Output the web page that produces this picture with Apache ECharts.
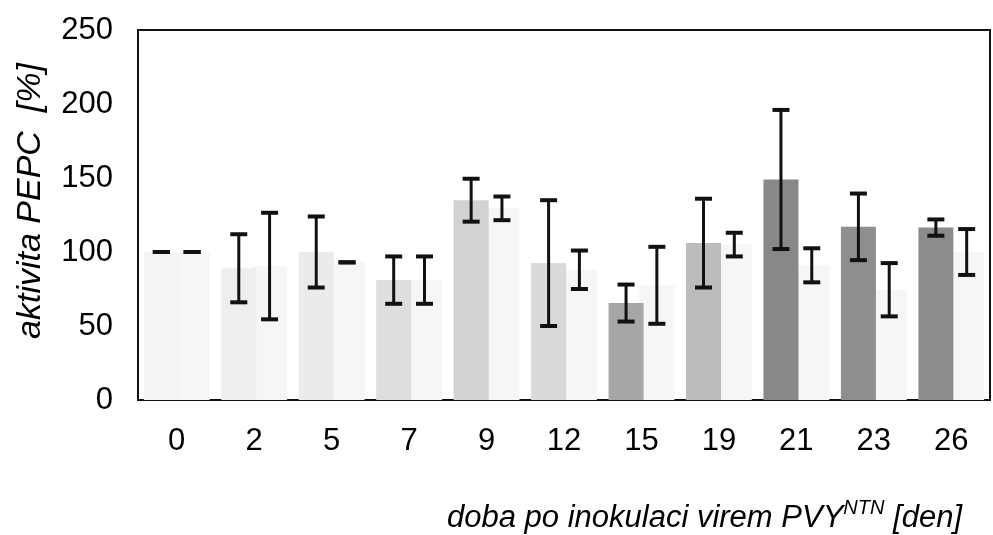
<!DOCTYPE html>
<html>
<head>
<meta charset="utf-8">
<script src="https://cdn.jsdelivr.net/npm/echarts@6/dist/echarts.min.js"></script>
<style>html,body{margin:0;padding:0;background:#fff;}#c{width:993px;height:535px;}</style>
</head>
<body>
<div id="c"></div>
<script>
const categories = ['0', '2', '5', '7', '9', '12', '15', '19', '21', '23', '26'];
const meanA = [100, 89, 100, 81, 135, 92.5, 65.5, 106, 149, 117, 116.5];
const errA  = [0, 23, 24, 16, 14.5, 42.5, 12.5, 30, 47, 22.5, 5.5];
const meanB = [100, 90.5, 93, 81, 129.5, 88, 77.5, 105, 91, 74.5, 100];
const errB  = [0, 36, 0, 16, 8, 13, 26, 8, 11.5, 18, 15.5];
const yTicks = [0, 50, 100, 150, 200, 250];

// styling (kept apart from data)
const shadeA = ['#f4f4f4','#eeeeee','#ebebeb','#dedede','#d2d2d2','#dadada','#a6a6a6','#bcbcbc','#888888','#8e8e8e','#8c8c8c'];
const shadeB = '#f6f6f6';
const FONT = 'Liberation Sans, Arial, sans-serif';
const BAR_W = 35;
const OFFSET = BAR_W * 0.88 / 2;

function errData(mean, err) {
  return mean.map((m, i) => [i, m - err[i], m + err[i]]);
}
function errSeries(mean, err, sign) {
  return {
    type: 'custom',
    z: 5,
    data: errData(mean, err),
    encode: { x: 0, y: [1, 2] },
    renderItem: function (params, api) {
      const idx = api.value(0);
      const lo = api.coord([idx, api.value(1)]);
      const hi = api.coord([idx, api.value(2)]);
      const x = lo[0] + sign * OFFSET;
      const st = { stroke: '#111', lineWidth: 3 };
      const cap = { stroke: '#111', lineWidth: 4 };
      return {
        type: 'group',
        children: [
          { type: 'line', shape: { x1: x, y1: lo[1], x2: x, y2: hi[1] }, style: st },
          { type: 'line', shape: { x1: x - 8.5, y1: hi[1], x2: x + 8.5, y2: hi[1] }, style: cap },
          { type: 'line', shape: { x1: x - 8.5, y1: lo[1], x2: x + 8.5, y2: lo[1] }, style: cap }
        ]
      };
    }
  };
}

const chart = echarts.init(document.getElementById('c'));
chart.setOption({
  animation: false,
  backgroundColor: '#fff',
  grid: { left: 138, right: 3, top: 30, bottom: 135, show: true, borderColor: '#111', borderWidth: 2, backgroundColor: 'transparent' },
  xAxis: {
    type: 'category',
    data: categories,
    axisLine: { show: false },
    axisTick: { show: false },
    axisLabel: { fontSize: 31, color: '#000', fontFamily: FONT, margin: 26 }
  },
  yAxis: {
    type: 'value',
    min: yTicks[0], max: yTicks[yTicks.length - 1], interval: yTicks[1] - yTicks[0],
    axisLine: { show: false },
    axisTick: { show: false },
    splitLine: { show: false },
    axisLabel: { fontSize: 31, color: '#000', fontFamily: FONT, margin: 25 }
  },
  graphic: [
    {
      type: 'text', x: 31, y: 201, rotation: Math.PI / 2,
      style: { text: 'aktivita PEPC  [%]', font: 'italic 34px ' + FONT, fill: '#000', align: 'center', verticalAlign: 'middle' }
    },
    {
      type: 'text', x: 447, y: 516,
      style: {
        text: '{a|doba po inokulaci virem PVY}{s|NTN}{a| [den]}',
        fill: '#000', align: 'left', verticalAlign: 'middle',
        rich: {
          a: { fontSize: 31, fontStyle: 'italic', fontFamily: FONT, lineHeight: 36, verticalAlign: 'bottom' },
          s: { fontSize: 20, fontStyle: 'italic', fontFamily: FONT, lineHeight: 20, verticalAlign: 'top' }
        }
      }
    }
  ],
  series: [
    {
      type: 'bar', barWidth: BAR_W, barGap: '-12%', z: 3,
      data: meanA.map((v, i) => ({ value: v, itemStyle: { color: shadeA[i] } }))
    },
    {
      type: 'bar', barWidth: BAR_W, barGap: '-12%', z: 2,
      itemStyle: { color: shadeB },
      data: meanB
    },
    errSeries(meanA, errA, -1),
    errSeries(meanB, errB, 1)
  ]
});
</script>
</body>
</html>
